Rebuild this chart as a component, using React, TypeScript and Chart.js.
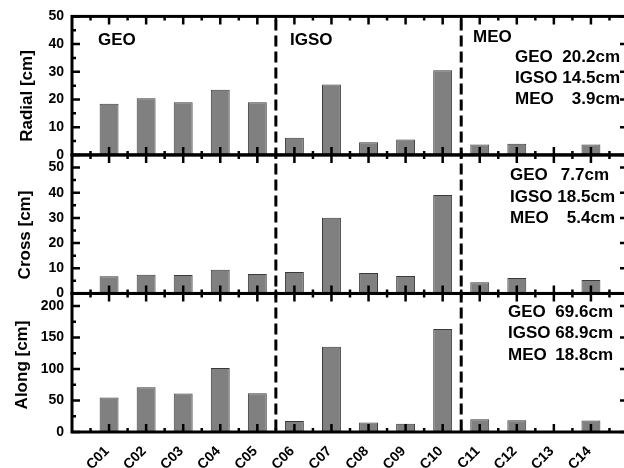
import React, { useEffect, useRef } from "react";
import { Chart, registerables } from "chart.js";

Chart.register(...registerables);

const satellites = ["C01", "C02", "C03", "C04", "C05", "C06", "C07", "C08", "C09", "C10", "C11", "C12", "C13", "C14"];
const radial = [18.5, 20.5, 19.0, 23.5, 19.0, 6.2, 25.4, 4.6, 5.6, 30.6, 3.8, 4.0, null, 3.8];
const cross = [6.8, 7.4, 7.3, 9.4, 7.7, 8.5, 30.1, 8.1, 6.9, 39.1, 4.5, 6.1, null, 5.3];
const along = [54.6, 71, 61, 101.6, 61.4, 17.5, 135.5, 14.9, 13.3, 163.5, 20.2, 18.6, null, 18.1];

const groups = ["GEO", "IGSO", "MEO"];
const separators = [5.5, 10.5];
const radialStats = ["20.2cm", "14.5cm", "3.9cm"];
const crossStats = ["7.7cm", "18.5cm", "5.4cm"];
const alongStats = ["69.6cm", "68.9cm", "18.8cm"];
const panelTitles = ["Radial [cm]", "Cross [cm]", "Along [cm]"];

const FONT = "'Liberation Sans', Arial, Helvetica, sans-serif";

const decorPlugin = {
  id: "decor",
  afterDatasetsDraw(chart: any) {
    const ctx = chart.ctx as CanvasRenderingContext2D;
    const { left, right, top, bottom } = chart.chartArea;
    const x = chart.scales.x;
    ctx.save();
    ctx.strokeStyle = "#000";
    ctx.fillStyle = "#000";

    // dashed separators
    ctx.lineWidth = 3;
    ctx.setLineDash([11, 5]);
    for (const v of separators) {
      const px = x.getPixelForValue(v);
      ctx.beginPath();
      ctx.moveTo(px, top + 3);
      ctx.lineTo(px, bottom);
      ctx.stroke();
    }
    ctx.setLineDash([]);

    const ids = ["yR", "yC", "yA"];
    for (const id of ids) {
      const s = chart.scales[id];
      const majors: number[] = s.ticks.map((t: any) => t.value);
      const step = majors.length > 1 ? majors[1] - majors[0] : 10;
      ctx.lineWidth = 2.5;
      const yTick = (v: number, len: number) => {
        const py = s.getPixelForValue(v);
        ctx.beginPath();
        ctx.moveTo(left, py);
        ctx.lineTo(left + len, py);
        ctx.moveTo(right, py);
        ctx.lineTo(right - len, py);
        ctx.stroke();
      };
      for (const v of majors) yTick(v, 8);
      for (let v = majors[0] + step / 2; v < s.max; v += step) yTick(v, 4);
      const xTick = (v: number, len: number) => {
        const px = x.getPixelForValue(v);
        ctx.beginPath();
        ctx.moveTo(px, s.top);
        ctx.lineTo(px, s.top + len);
        ctx.moveTo(px, s.bottom);
        ctx.lineTo(px, s.bottom - len);
        ctx.stroke();
      };
      for (let i = 1; i <= satellites.length; i++) xTick(i, 8);
      for (let i = 0; i <= satellites.length; i++) xTick(i + 0.5, 4);
      ctx.lineWidth = 3;
      ctx.strokeRect(left, s.top, right - left, s.bottom - s.top);
    }

    // rotated category labels
    ctx.font = `bold 14px ${FONT}`;
    ctx.textAlign = "right";
    ctx.textBaseline = "middle";
    satellites.forEach((name, i) => {
      const px = x.getPixelForValue(i + 1);
      ctx.save();
      ctx.translate(px - 2, bottom + 17);
      ctx.rotate(-Math.PI / 4);
      ctx.fillText(name, 0, 0);
      ctx.restore();
    });

    // titles
    ctx.font = `bold 17px ${FONT}`;
    ctx.textAlign = "center";
    ctx.textBaseline = "middle";
    const titlePos = [
      [27, 96],
      [25, 235],
      [22, 365],
    ];
    panelTitles.forEach((t, i) => {
      ctx.save();
      ctx.translate(titlePos[i][0], titlePos[i][1]);
      ctx.rotate(-Math.PI / 2);
      ctx.fillText(t, 0, 0);
      ctx.restore();
    });

    // group labels
    ctx.textAlign = "left";
    const groupPos = [
      [98, 40],
      [290, 40],
      [473, 37],
    ];
    groups.forEach((g, i) => ctx.fillText(g, groupPos[i][0], groupPos[i][1]));

    const drawStats = (vals: string[], lx: number, rx: number[], ys: number[]) => {
      vals.forEach((v, i) => {
        ctx.textAlign = "left";
        ctx.fillText(groups[i], lx, ys[i]);
        ctx.textAlign = "right";
        ctx.fillText(v, rx[i], ys[i]);
      });
    };
    drawStats(radialStats, 515, [620, 620, 620], [57, 78, 99]);
    drawStats(crossStats, 510, [609, 615, 615], [175, 197, 218]);
    drawStats(alongStats, 508, [613, 613, 613], [312, 333, 355]);
    ctx.restore();
  },
};

export default function App() {
  const ref = useRef<HTMLCanvasElement | null>(null);
  useEffect(() => {
    if (!ref.current) return;
    const labels = ["", ...satellites, ""];
    const tickFont = { family: FONT, size: 14, weight: "bold" as const };
    const yCommon = (max: number, step: number, weight: number) => ({
      type: "linear" as const,
      position: "left" as const,
      stack: "panels",
      stackWeight: 1,
      weight,
      min: 0,
      max,
      ticks: { stepSize: step, includeBounds: false, autoSkip: false, padding: 8, color: "#000", font: tickFont },
      grid: { display: false, drawTicks: false },
      border: { display: false },
      afterFit: (s: any) => {
        s.width = 72;
      },
    });
    const ds = (data: (number | null)[], yAxisID: string) => ({
      type: "bar" as const,
      data: [null, ...data, null],
      yAxisID,
      xAxisID: "x",
      grouped: false,
      backgroundColor: "#808080",
      borderColor: "#3a3a3a",
      borderWidth: 1,
      barPercentage: 0.51,
      categoryPercentage: 1,
    });
    const chart = new Chart(ref.current, {
      type: "bar",
      data: {
        labels,
        datasets: [ds(radial, "yR"), ds(cross, "yC"), ds(along, "yA")] as any,
      },
      options: {
        responsive: false,
        animation: false,
        devicePixelRatio: 1,
        layout: { padding: { top: 15, right: 12, left: 0, bottom: 0 } },
        plugins: { legend: { display: false }, tooltip: { enabled: false } },
        scales: {
          x: {
            type: "category",
            offset: false,
            grid: { display: false, drawTicks: false },
            border: { display: false },
            ticks: { display: false, autoSkip: false },
            afterFit: (s: any) => {
              s.height = 36;
            },
          },
          yR: yCommon(50, 10, 3),
          yC: yCommon(55, 10, 2),
          yA: yCommon(220, 50, 1),
        } as any,
      },
      plugins: [decorPlugin],
    });
    return () => chart.destroy();
  }, []);
  return (
    <div style={{ position: "absolute", left: 0, top: 0, width: 624, height: 468, overflow: "hidden", background: "#fff" }}>
      <canvas ref={ref} width={640} height={468} style={{ display: "block", width: 640, height: 468 }} />
    </div>
  );
}
